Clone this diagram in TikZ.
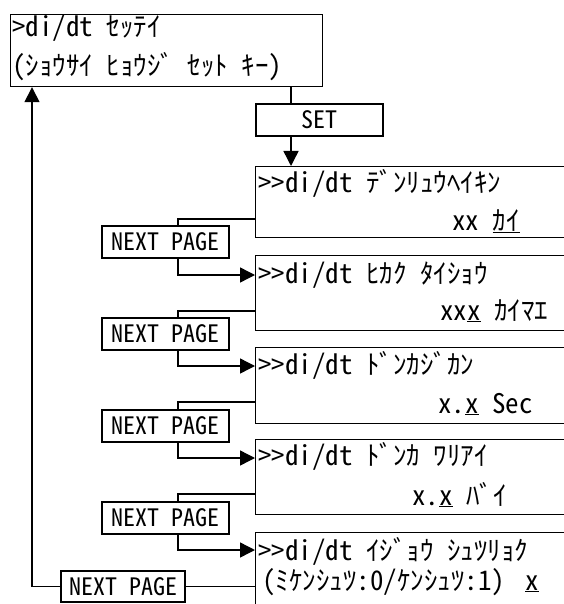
\documentclass[tikz,border=0pt]{standalone}
\usepackage{fontspec}
\setmainfont{Noto Sans CJK JP}[RawFeature=+hwid]
\usetikzlibrary{arrows.meta,positioning}

\newcommand\lcdfont{\fontsize{27}{27}\selectfont\spaceskip .5em\relax}

\tikzset{
  screen/.style={draw, line width=1.2pt, anchor=north west, minimum width=330pt, inner sep=0pt},
  keybox/.style={draw, line width=1.2pt, minimum width=127pt, minimum height=32pt, inner sep=0pt,
    font=\fontsize{24}{24}\selectfont},
  lcd/.style={anchor=base west, inner sep=0pt, font=\lcdfont},
  link/.style={line width=1.4pt},
  arr/.style={link, -{Triangle[length=15pt,width=15pt]}}
}

\begin{document}
\begin{tikzpicture}[x=1pt,y=-1pt]
        \useasboundingbox (0,0) rectangle (563,604);
        % setting menu
        \node[screen, minimum width=312pt, minimum height=72pt] (menu) at (10,14) {};
        \node[lcd] (menu1) at (12,37) {>di/dt ｾｯﾃｲ};
        \node[lcd] (menu2) at (12,76) {(ｼｮｳｻｲ ﾋｮｳｼﾞ ｾｯﾄ ｷｰ)};
        \node[keybox] (set) at (319.5,120) {SET};
        % screens
        \node[screen, minimum height=71pt] (s1) at (255,166) {};
        \node[lcd] (s1a) at (258,192) {>{}>di/dt ﾃﾞﾝﾘｭｳﾍｲｷﾝ};
        \node[lcd] (s1b) at (452,230) {xx \underline{ｶｲ}};
        \node[screen, minimum height=75pt] (s2) at (255,255) {};
        \node[lcd] (s2a) at (258,283) {>{}>di/dt ﾋｶｸ ﾀｲｼｮｳ};
        \node[lcd] (s2b) at (440,320) {xx\underline{x} ｶｲﾏｴ};
        \node[screen, minimum height=76pt] (s3) at (255,347) {};
        \node[lcd] (s3a) at (258,374) {>{}>di/dt ﾄﾞﾝｶｼﾞｶﾝ};
        \node[lcd] (s3b) at (438,413) {x.\underline{x} Sec};
        \node[screen, minimum height=75pt] (s4) at (255,439) {};
        \node[lcd] (s4a) at (258,465) {>{}>di/dt ﾄﾞﾝｶ ﾜﾘｱｲ};
        \node[lcd] (s4b) at (412,505) {x.\underline{x} ﾊﾞｲ};
        \node[screen, minimum height=80pt] (s5) at (255,532) {};
        \node[lcd] (s5a) at (258,560) {>{}>di/dt ｲｼﾞｮｳ ｼｭﾂﾘｮｸ};
        \node[lcd] (s5b) at (262,590) {(ﾐｹﾝｼｭﾂ:0/ｹﾝｼｭﾂ:1)\hspace{.75em}\underline{x}};
        % keys
        \node[keybox] (np1) at (165.5,242) {NEXT PAGE};
        \node[keybox] (np2) at (165.5,334) {NEXT PAGE};
        \node[keybox] (np3) at (165.5,426) {NEXT PAGE};
        \node[keybox] (np4) at (165.5,518) {NEXT PAGE};
        \node[keybox, minimum width=124pt, minimum height=31pt] (np5) at (123,586.5) {NEXT PAGE};
        % connectors
        \coordinate (setx) at (291,0);
        \coordinate (npx) at (178,0);
        \coordinate (backx) at (32,0);
        \draw[link] (menu.south -| setx) -- (set.north -| setx);
        \draw[arr] (set.south -| setx) -- (s1.north -| setx);
        \foreach \a/\b/\ya/\yb in {1/2/219/275, 2/3/311/366, 3/4/402/458, 4/5/494/550} {
          \draw[link] (s\a.west |- 0,\ya) -| (np\a.north -| npx);
          \draw[arr] (np\a.south -| npx) |- (s\b.west |- 0,\yb);
        }
        \draw[link] (np5.east) -- (np5.east -| s5.west);
        \draw[arr] (np5.west) -| (menu.south -| backx);
\end{tikzpicture}
\end{document}
